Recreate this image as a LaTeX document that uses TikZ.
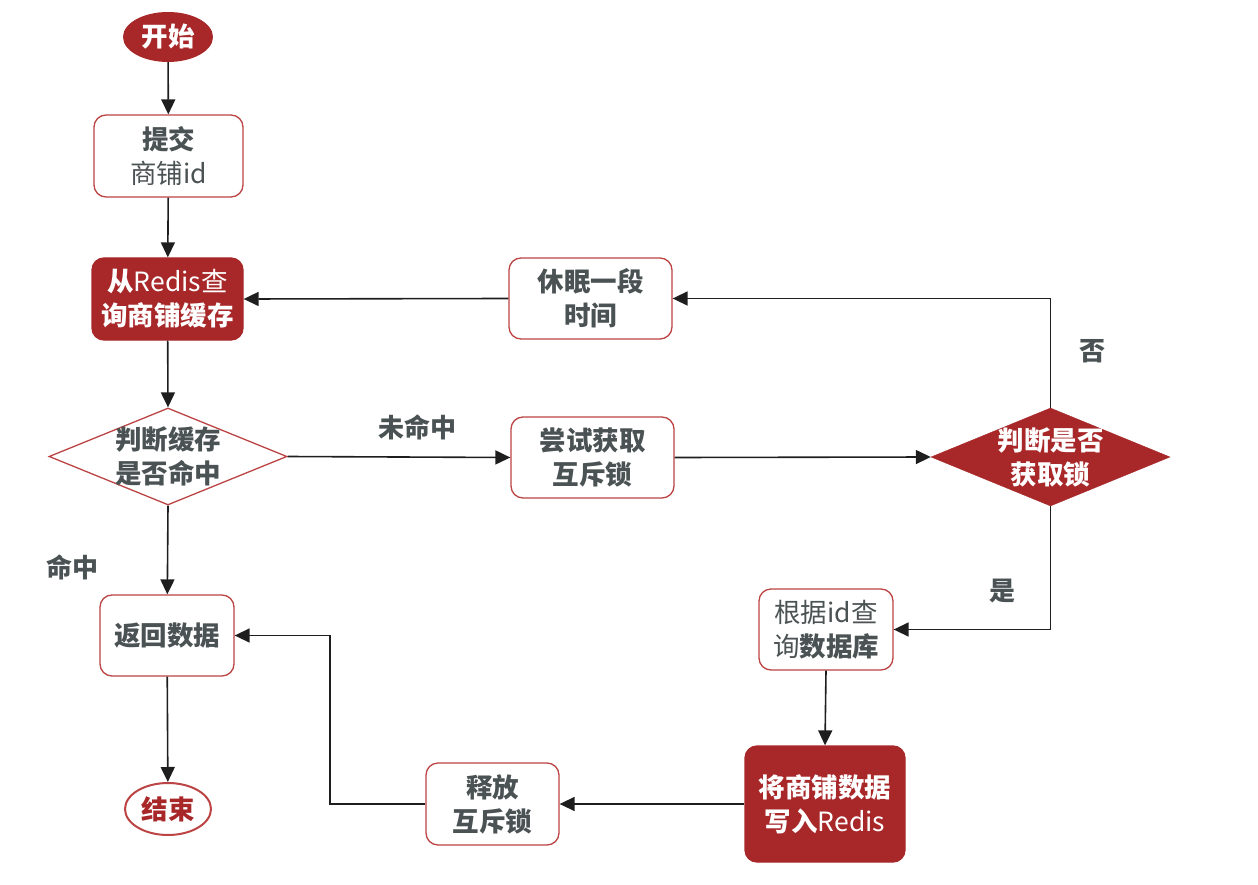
\documentclass[tikz,border=0pt]{standalone}
\usepackage{fontspec}
\setmainfont{Noto Sans CJK SC}
\usetikzlibrary{arrows.meta,shapes.geometric}
\definecolor{dred}{HTML}{A8282A}
\definecolor{bred}{HTML}{BC4444}
\definecolor{tgray}{HTML}{4B5253}
\definecolor{lgray}{HTML}{1E1E1E}
\tikzset{
  base/.style={font=\fontsize{26.5}{34}\selectfont, align=center, inner sep=0pt},
  wbox/.style={base, draw=bred, line width=1.3pt, rounded corners=12pt, fill=white, text=tgray},
  rbox/.style={base, draw=dred, fill=dred, line width=1.3pt, rounded corners=12pt, text=white},
  lbl/.style={font=\fontsize{26}{30}\selectfont\bfseries, text=tgray, inner sep=0pt},
  arr/.style={-{Triangle[length=15pt,width=14pt]}, line width=1.6pt, draw=lgray}
}
\begin{document}
\begin{tikzpicture}[x=1pt,y=-1pt]
\useasboundingbox (0,0) rectangle (1258,885);
% nodes
\node[base, ellipse, fill=dred, text=white, minimum width=90pt, minimum height=50pt] (start) at (168,37) {\bfseries 开始};
\node[wbox, minimum width=149pt, minimum height=82pt] (submit) at (168.5,156) {{\bfseries 提交}\\商铺id};
\node[rbox, minimum width=151pt, minimum height=82pt] (redis) at (167.5,299) {{\bfseries 从}Redis查\\{\bfseries 询商铺缓存}};
\node[diamond, draw=bred, fill=white, line width=1.3pt, minimum width=238pt, minimum height=97pt, inner sep=0pt] (d1) at (168,456.5) {};
\node[base, text=tgray] (d1t) at (d1.center) {\bfseries 判断缓存\\\bfseries 是否命中};
\node[wbox, minimum width=134pt, minimum height=81pt] (ret) at (167,635.5) {\bfseries 返回数据};
\node[base, ellipse, draw=bred, line width=2pt, fill=white, text=dred, minimum width=86pt, minimum height=52pt] (end) at (168,809) {\bfseries 结束};
\node[wbox, minimum width=163pt, minimum height=81pt] (sleep) at (590.5,298.5) {\bfseries 休眠一段\\\bfseries 时间};
\node[wbox, minimum width=163pt, minimum height=81pt] (try) at (592.5,457.5) {\bfseries 尝试获取\\\bfseries 互斥锁};
\node[diamond, draw=dred, fill=dred, minimum width=239pt, minimum height=98pt, inner sep=0pt] (d2) at (1050.5,457) {};
\node[base, text=white] (d2t) at (d2.center) {\bfseries 判断是否\\\bfseries 获取锁};
\node[wbox, minimum width=134pt, minimum height=81pt] (query) at (826,629.5) {根据id查\\询{\bfseries 数据库}};
\node[rbox, minimum width=160pt, minimum height=116pt] (write) at (825,804) {{\bfseries 将商铺数据}\\{\bfseries 写入}Redis};
\node[wbox, minimum width=133pt, minimum height=82pt] (release) at (492.5,804) {\bfseries 释放\\\bfseries 互斥锁};
% labels
\node[lbl] (miss) at (417,427) {未命中};
\node[lbl] (hit) at (72,567) {命中};
\node[lbl] (no) at (1092,351) {否};
\node[lbl] (yes) at (1002,591) {是};
\coordinate (bend) at (330,804);
% edges
\draw[arr] (start) -- (submit);
\draw[arr] (submit) -- (redis);
\draw[arr] (redis) -- (d1.north);
\draw[arr] (d1.south) -- (ret);
\draw[arr] (ret) -- (end);
\draw[arr] (d1.east) -- (try.west);
\draw[arr] (try.east) -- (d2.west);
\draw[arr] (d2.north) |- (sleep.east);
\draw[arr] (sleep.west) -- (redis.east);
\draw[arr] (d2.south) |- (query.east);
\draw[arr] (query.south) -- (write.north);
\draw[arr] (write.west) -- (release.east);
\draw[arr] (release.west) -- (bend) |- (ret.east);
\end{tikzpicture}
\end{document}
